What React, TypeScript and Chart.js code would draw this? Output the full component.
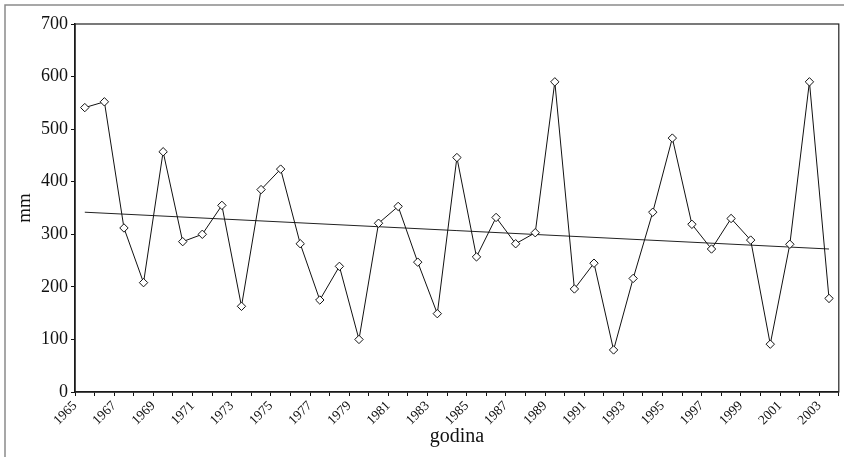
import React, { useEffect, useRef } from "react";
import { Chart, registerables } from "chart.js";

Chart.register(...registerables);

const years: string[] = [
  "1965", "1966", "1967", "1968", "1969", "1970", "1971", "1972", "1973", "1974",
  "1975", "1976", "1977", "1978", "1979", "1980", "1981", "1982", "1983", "1984",
  "1985", "1986", "1987", "1988", "1989", "1990", "1991", "1992", "1993", "1994",
  "1995", "1996", "1997", "1998", "1999", "2000", "2001", "2002", "2003",
];

const precipitation: number[] = [
  541, 552, 312, 208, 457, 286, 300, 355, 163, 385,
  424, 282, 175, 239, 100, 321, 353, 247, 149, 446,
  257, 332, 282, 303, 590, 196, 245, 80, 216, 342,
  483, 319, 272, 330, 289, 91, 281, 590, 178,
];

// trend line end values (first year, last year)
const trendEnds: number[] = [342, 272];

const xTickLabels: string[] = [
  "1965", "1967", "1969", "1971", "1973", "1975", "1977", "1979", "1981", "1983",
  "1985", "1987", "1989", "1991", "1993", "1995", "1997", "1999", "2001", "2003",
];

const yTicks: number[] = [0, 100, 200, 300, 400, 500, 600, 700];

const SERIF = "'Liberation Serif', 'DejaVu Serif', serif";

export default function App() {
  const ref = useRef<HTMLCanvasElement | null>(null);

  useEffect(() => {
    if (!ref.current) return;
    const trendData: (number | null)[] = years.map((_, i) =>
      i === 0 ? trendEnds[0] : i === years.length - 1 ? trendEnds[1] : null
    );
    const firstYear = Number(years[0]);
    const lastYear = Number(years[years.length - 1]) + 1;

    const framePlugin = {
      id: "frames",
      beforeDraw(chart: any) {
        const ctx = chart.ctx;
        ctx.save();
        ctx.strokeStyle = "#8a8a8a";
        ctx.lineWidth = 1.5;
        ctx.beginPath();
        ctx.moveTo(5, 2000);
        ctx.lineTo(5, 5);
        ctx.lineTo(2000, 5);
        ctx.stroke();
        ctx.restore();
      },
      afterDraw(chart: any) {
        const { ctx, chartArea } = chart;
        ctx.save();
        ctx.strokeStyle = "#222";
        ctx.lineWidth = 1.2;
        ctx.strokeRect(chartArea.left, chartArea.top, chartArea.right - chartArea.left, chartArea.bottom - chartArea.top);
        ctx.restore();
      },
    };

    const chart = new Chart(ref.current, {
      type: "line",
      data: {
        labels: years,
        datasets: [
          {
            label: "mm",
            data: precipitation,
            xAxisID: "x",
            yAxisID: "y",
            borderColor: "#111",
            borderWidth: 1,
            pointStyle: "rectRot",
            pointRadius: 4.2,
            pointBackgroundColor: "#fff",
            pointBorderColor: "#111",
            pointBorderWidth: 1,
            tension: 0,
          },
          {
            label: "trend",
            data: trendData,
            xAxisID: "x",
            yAxisID: "y",
            borderColor: "#222",
            borderWidth: 1,
            pointRadius: 0,
            spanGaps: true,
            tension: 0,
          },
        ],
      },
      options: {
        animation: false,
        responsive: true,
        maintainAspectRatio: false,
        layout: { padding: { top: 24, right: 5, left: 0, bottom: 0 } },
        plugins: {
          legend: { display: false },
          tooltip: { enabled: false },
        },
        scales: {
          x: {
            type: "category",
            display: false,
            offset: true,
          },
          x2: {
            type: "linear",
            position: "bottom",
            min: firstYear,
            max: lastYear,
            afterFit(scale: any) {
              scale.height = 65;
              scale.paddingRight = 0;
              scale.paddingLeft = 0;
            },
            ticks: {
              stepSize: 1,
              autoSkip: false,
              maxRotation: 45,
              minRotation: 45,
              padding: 2,
              color: "#111",
              font: { family: SERIF, size: 13.5 },
              callback: (v: any) => (xTickLabels.includes(String(v)) ? String(v) : ""),
            },
            grid: {
              drawOnChartArea: false,
              drawTicks: true,
              tickLength: 4,
              color: "#111",
            },
            border: { display: true, color: "#111", width: 1.5 },
            title: {
              display: true,
              text: "godina",
              color: "#111",
              font: { family: SERIF, size: 20 },
              padding: { top: 0, bottom: 8 },
            },
          },
          y: {
            min: 0,
            max: 700,
            afterFit(scale: any) {
              scale.width = 75;
              scale.paddingTop = 0;
              scale.paddingBottom = 0;
            },
            afterBuildTicks(scale: any) {
              scale.ticks = yTicks.map((v) => ({ value: v }));
            },
            ticks: {
              padding: 3,
              color: "#111",
              font: { family: SERIF, size: 18 },
            },
            grid: {
              drawOnChartArea: false,
              drawTicks: true,
              tickLength: 4,
              color: "#111",
            },
            border: { display: true, color: "#111", width: 1.5 },
            title: {
              display: true,
              text: "mm",
              color: "#111",
              font: { family: SERIF, size: 19 },
              padding: { top: 14, bottom: 0 },
            },
          },
        },
      },
      plugins: [framePlugin],
    });
    return () => chart.destroy();
  }, []);

  return (
    <div style={{ position: "absolute", left: 0, top: 0, width: 844, height: 457, background: "#fff" }}>
      <canvas ref={ref} />
    </div>
  );
}
